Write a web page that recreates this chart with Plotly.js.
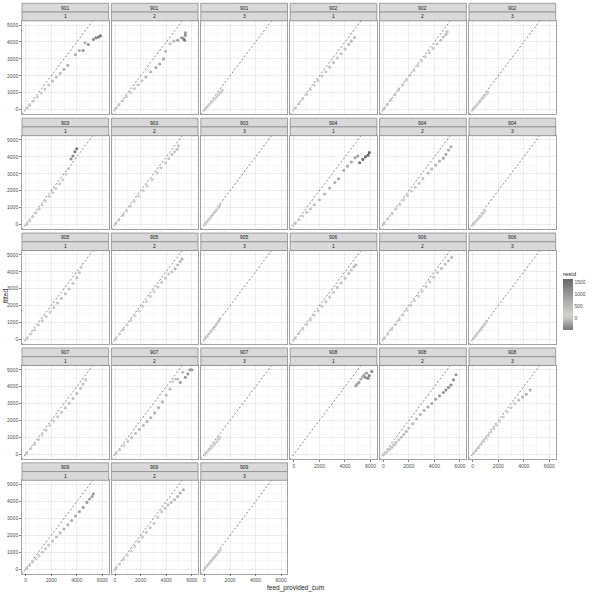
<!DOCTYPE html>
<html>
<head>
<meta charset="utf-8">
<script src="https://cdn.plot.ly/plotly-3.0.1.min.js"></script>
<style>html,body{margin:0;padding:0;background:#fff;}#chart{width:592px;height:592px;}</style>
</head>
<body>
<div id="chart"></div>
<script>
// ---- facet labels ----
const fishIds = ["901","901","901","902","902","902","903","903","903","904","904","904","905","905","905","906","906","906","907","907","907","908","908","908","909","909","909"];
const cageIds = ["1","2","3","1","2","3","1","2","3","1","2","3","1","2","3","1","2","3","1","2","3","1","2","3","1","2","3"];
const xTicks = [0, 2000, 4000, 6000];
const yTicks = [0, 1000, 2000, 3000, 4000, 5000];
const residTicks = [0, 500, 1000, 1500];
const identityLine = [-300, 6600];

// ---- data: feed_provided_cum (x), fitted (y), resid (r) ----
const x901_1 = [100,300,600,900,1200,1500,1800,2100,2400,2700,3000,3300,3900,4200,4500,4650,4900,5300,5500,5700,5850];
const y901_1 = [80,260,500,740,980,1220,1450,1680,1920,2150,2380,2620,3250,3500,3500,3950,3850,4150,4250,4300,4370];
const r901_1 = [20,40,100,160,220,280,350,420,480,550,620,680,650,700,1000,700,1050,1150,1250,1400,1480];

const x901_2 = [50,300,600,900,1200,1500,1800,2100,2400,2800,3200,3500,3800,3950,4300,4600,4900,5200,5350,5450,5500,5500];
const y901_2 = [60,280,520,760,1000,1230,1460,1700,1920,2220,2480,2700,3000,3450,3900,4050,4100,4250,4200,4100,4400,4550];
const r901_2 = [-10,20,80,140,200,270,340,400,480,580,720,800,800,500,400,550,800,950,1150,1350,1100,950];

const x901_3 = [50,200,350,500,650,800,950,1100,1250,1400];
const y901_3 = [30,150,270,390,510,640,760,880,1000,1140];
const r901_3 = [20,50,80,110,140,160,190,220,250,260];

const x902_1 = [100,400,700,1000,1300,1600,1900,2200,2500,2800,3100,3400,3700,4000,4300,4500,4750];
const y902_1 = [90,360,630,900,1170,1440,1710,1980,2240,2510,2780,3050,3310,3580,3860,4050,4270];
const r902_1 = [10,40,70,100,130,160,190,220,260,290,320,350,390,420,440,450,480];

const x902_2 = [50,300,600,900,1200,1500,1800,2100,2400,2700,3000,3300,3600,3900,4200,4500,4700,4900,5000];
const y902_2 = [50,290,580,880,1170,1460,1750,2040,2320,2600,2870,3130,3380,3620,3880,4100,4300,4450,4600];
const r902_2 = [0,10,20,20,30,40,50,60,80,100,130,170,220,280,320,400,400,450,400];

const x902_3 = [50,200,350,500,650,800,950,1100,1200];
const y902_3 = [40,170,300,430,560,690,810,940,1030];
const r902_3 = [10,30,50,70,90,110,140,160,170];

const x903_1 = [80,300,550,800,1050,1300,1550,1850,2100,2350,2650,2900,3150,3350,3550,3700,3850,4000];
const y903_1 = [10,220,450,680,920,1150,1380,1660,1890,2130,2410,2640,2980,3300,3870,4050,4300,4480];
const r903_1 = [70,80,100,120,130,150,170,190,210,220,240,260,170,50,-320,-350,-450,-470];

const x903_2 = [50,300,600,900,1200,1500,1850,2200,2500,2900,3300,3600,3950,4200,4450,4650,4850,4950];
const y903_2 = [50,270,540,810,1080,1350,1680,2000,2280,2650,3050,3350,3650,3900,4150,4300,4450,4650];
const r903_2 = [0,30,60,90,120,150,170,200,220,250,250,250,300,300,300,350,400,300];

const x903_3 = [50,200,350,500,650,800,950,1100,1200];
const y903_3 = [20,160,300,440,580,720,860,1020,1130];
const r903_3 = [30,40,50,60,70,80,90,80,70];

const x904_1 = [100,400,700,1000,1300,1600,2000,2400,2800,3200,3500,3900,4200,4500,4800,5000,5150,5400,5600,5800,5900];
const y904_1 = [60,280,500,720,930,1150,1460,1800,2150,2480,2700,3200,3450,3700,3950,4050,3650,3850,4000,4100,4250];
const r904_1 = [40,120,200,280,370,450,540,600,650,720,800,700,750,800,850,950,1500,1550,1600,1640,1600];

const x904_2 = [50,350,700,1000,1300,1600,1900,2200,2500,2800,3100,3500,3800,4100,4400,4700,4900,5100,5300];
const y904_2 = [60,330,640,910,1180,1450,1720,1980,2200,2440,2700,3040,3280,3500,3750,3920,4150,4400,4600];
const r904_2 = [-10,20,60,90,120,150,180,220,300,360,400,460,520,600,650,780,750,700,700];

const x904_3 = [50,200,350,500,650,800,950];
const y904_3 = [30,150,270,390,510,640,770];
const r904_3 = [20,50,80,110,140,160,180];

const x905_1 = [100,400,700,1000,1300,1600,1900,2200,2500,2800,3100,3400,3700,4000,4200,4350];
const y905_1 = [60,310,570,830,1090,1350,1620,1880,2150,2420,2700,2980,3300,3650,3950,4250];
const r905_1 = [40,90,130,170,210,250,280,320,350,380,400,420,400,350,250,100];

const x905_2 = [50,350,650,950,1250,1550,1850,2150,2450,2750,3050,3350,3650,3950,4200,4450,4700,4900,5100,5250];
const y905_2 = [40,310,580,850,1120,1390,1680,1960,2240,2540,2830,3100,3380,3620,3870,4000,4170,4400,4600,4750];
const r905_2 = [10,40,70,100,130,160,170,190,210,210,220,250,270,330,330,450,530,500,500,500];

const x905_3 = [50,200,350,500,650,800,950,1100,1200];
const y905_3 = [40,180,320,470,610,760,900,1050,1200];
const r905_3 = [10,20,30,30,40,40,50,50,0];

const x906_1 = [100,400,700,1000,1300,1600,1900,2200,2500,2800,3100,3400,3700,4000,4300,4500,4700,4850];
const y906_1 = [80,340,610,880,1150,1420,1690,1960,2230,2500,2780,3060,3340,3620,3900,4100,4300,4400];
const r906_1 = [20,60,90,120,150,180,210,240,270,300,320,340,360,380,400,400,400,450];

const x906_2 = [50,350,650,950,1250,1550,1850,2150,2450,2750,3050,3350,3650,3950,4250,4550,4850,5100,5350];
const y906_2 = [50,320,600,880,1160,1440,1720,2000,2280,2560,2840,3120,3400,3680,3960,4200,4450,4650,4850];
const r906_2 = [0,30,50,70,90,110,130,150,170,190,210,230,250,270,290,350,400,450,500];

const x906_3 = [50,200,350,500,650,800,950,1100];
const y906_3 = [40,180,320,460,600,750,900,1060];
const r906_3 = [10,20,30,40,50,50,50,40];

const x907_1 = [80,400,700,1000,1300,1600,1900,2200,2500,2800,3100,3400,3700,4000,4300,4500,4700];
const y907_1 = [60,330,600,870,1140,1420,1700,1960,2220,2480,2740,3020,3300,3600,3900,4150,4400];
const r907_1 = [20,70,100,130,160,180,200,240,280,320,360,380,400,400,400,350,300];

const x907_2 = [50,350,700,1000,1300,1600,1900,2200,2500,2800,3100,3400,3700,4000,4300,4500,4700,4900,5100,5300,5500,5700,5850,6000];
const y907_2 = [40,260,520,760,980,1230,1470,1700,1930,2160,2440,2750,3100,3500,3850,4300,4450,4450,4250,4850,4550,4750,5000,5000];
const r907_2 = [10,90,180,240,320,370,430,500,570,640,660,650,600,500,450,200,250,450,850,450,950,950,850,1000];

const x907_3 = [50,200,350,500,650,800,950,1100,1200];
const y907_3 = [20,130,250,370,490,610,740,880,1000];
const r907_3 = [30,70,100,130,160,190,210,220,200];

const x908_1 = [4850,4950,5100,5250,5400,5500,5600,5700,5800,5900,6100];
const y908_1 = [4050,4150,4250,4450,4600,4700,4550,4800,4500,4650,4900];
const r908_1 = [800,800,850,800,800,800,1050,900,1300,1250,1200];

const x908_2 = [50,200,300,400,500,600,700,800,900,1000,1200,1400,1600,1800,2000,2300,2600,2900,3200,3500,3800,4100,4400,4700,4900,5100,5300,5500,5700];
const y908_2 = [0,120,130,260,280,400,420,560,560,700,850,1000,1170,1350,1550,1800,2100,2350,2600,2800,3000,3250,3450,3650,3800,3950,4100,4400,4700];
const r908_2 = [50,80,170,140,220,200,280,240,340,300,350,400,430,450,450,500,500,550,600,700,800,850,950,1050,1100,1150,1200,1100,1000];

const x908_3 = [50,250,450,650,850,1050,1250,1450,1650,1850,2100,2400,2700,3000,3300,3600,3900,4200,4500];
const y908_3 = [30,210,390,570,760,950,1130,1320,1520,1720,1950,2200,2500,2750,3000,3200,3380,3550,3800];
const r908_3 = [20,40,60,80,90,100,120,130,130,130,150,200,200,250,300,400,520,650,700];

const x909_1 = [80,300,550,800,1050,1300,1550,1800,2100,2400,2700,3000,3300,3600,3900,4200,4500,4800,5000,5200,5300];
const y909_1 = [50,230,420,610,800,1000,1200,1420,1660,1900,2140,2370,2620,2880,3140,3400,3650,3950,4150,4300,4450];
const r909_1 = [30,70,130,190,250,300,350,380,440,500,560,630,680,720,760,800,850,850,850,900,850];

const x909_2 = [50,350,650,950,1250,1550,1850,2150,2450,2750,3050,3350,3650,3900,4150,4400,4650,4900,5100,5350];
const y909_2 = [40,300,560,820,1080,1340,1620,1900,2180,2450,2700,3050,3400,3600,3800,3950,4100,4300,4500,4700];
const r909_2 = [10,50,90,130,170,210,230,250,270,300,350,300,250,300,350,450,550,600,600,650];

const x909_3 = [50,200,350,500,650,800,950,1100,1250];
const y909_3 = [60,200,330,460,590,720,850,990,1130];
const r909_3 = [-10,0,20,40,60,80,100,110,120];

const panelX = [x901_1,x901_2,x901_3,x902_1,x902_2,x902_3,x903_1,x903_2,x903_3,x904_1,x904_2,x904_3,x905_1,x905_2,x905_3,x906_1,x906_2,x906_3,x907_1,x907_2,x907_3,x908_1,x908_2,x908_3,x909_1,x909_2,x909_3];
const panelY = [y901_1,y901_2,y901_3,y902_1,y902_2,y902_3,y903_1,y903_2,y903_3,y904_1,y904_2,y904_3,y905_1,y905_2,y905_3,y906_1,y906_2,y906_3,y907_1,y907_2,y907_3,y908_1,y908_2,y908_3,y909_1,y909_2,y909_3];
const panelR = [r901_1,r901_2,r901_3,r902_1,r902_2,r902_3,r903_1,r903_2,r903_3,r904_1,r904_2,r904_3,r905_1,r905_2,r905_3,r906_1,r906_2,r906_3,r907_1,r907_2,r907_3,r908_1,r908_2,r908_3,r909_1,r909_2,r909_3];

// ---- layout geometry (pixels) ----
const W = 592, H = 592;
const NCOL = 6;
const colLeft0 = 22, colStep = 89.4, panelW = 86.7;
const rowTop0 = 3.3, rowStep = 114.88, stripH = 8.75, panelH = 93.3;

const traces = [];
const layout = {
  width: W, height: H,
  margin: {l: 0, r: 0, t: 0, b: 0, pad: 0},
  paper_bgcolor: '#ffffff', plot_bgcolor: '#ffffff',
  showlegend: false,
  font: {family: 'Liberation Sans, Arial, sans-serif', color: '#4d4d4d'},
  shapes: [], annotations: [],
  coloraxis: {
    cmin: -470, cmax: 1640,
    colorscale: [[0, '#777777'], [0.223, '#c2c6c2'], [0.3, '#ced2ce'], [0.5, '#b3b7b3'], [0.75, '#8e908e'], [1, '#666666']],
    colorbar: {
      x: 563 / W, xanchor: 'left', xpad: 0,
      y: 1 - 299 / H, yanchor: 'middle', ypad: 0,
      len: 62, lenmode: 'pixels', thickness: 10, thicknessmode: 'pixels',
      outlinewidth: 0, ticks: '', tickvals: residTicks,
      tickfont: {size: 5, color: '#4d4d4d'},
      title: {text: 'resid', side: 'top', font: {size: 6, color: '#1a1a1a'}}
    }
  }
};

for (let k = 0; k < fishIds.length; k++) {
  const row = Math.floor(k / NCOL), col = k % NCOL;
  const n = k + 1, sfx = n === 1 ? '' : String(n);
  const left = colLeft0 + colStep * col;
  const sTop = rowTop0 + rowStep * row;
  const pTop = sTop + 2 * stripH;
  const isBottom = k + NCOL >= fishIds.length;
  const isLeft = col === 0;

  layout['xaxis' + sfx] = {
    domain: [left / W, (left + panelW) / W], anchor: 'y' + sfx,
    range: [-290, 6500], autorange: false, fixedrange: true,
    tickmode: 'array', tickvals: xTicks,
    showticklabels: isBottom, ticks: isBottom ? 'outside' : '', ticklen: 2, tickwidth: 0.6, tickcolor: '#333333',
    tickfont: {size: 5, color: '#4d4d4d'},
    showgrid: true, gridcolor: '#e6e6e6', gridwidth: 0.7,
    minor: {tickmode: 'linear', tick0: 1000, dtick: 2000, showgrid: true, gridcolor: '#f1f1f1', gridwidth: 0.5, ticks: ''},
    zeroline: false, showline: true, mirror: true, linecolor: '#8c8c8c', linewidth: 0.8
  };
  layout['yaxis' + sfx] = {
    domain: [1 - (pTop + panelH) / H, 1 - pTop / H], anchor: 'x' + sfx,
    range: [-270, 5255], autorange: false, fixedrange: true,
    tickmode: 'array', tickvals: yTicks,
    showticklabels: isLeft, ticks: isLeft ? 'outside' : '', ticklen: 2, tickwidth: 0.6, tickcolor: '#333333',
    tickfont: {size: 5, color: '#4d4d4d'},
    showgrid: true, gridcolor: '#e6e6e6', gridwidth: 0.7,
    minor: {tickmode: 'linear', tick0: 500, dtick: 1000, showgrid: true, gridcolor: '#f1f1f1', gridwidth: 0.5, ticks: ''},
    zeroline: false, showline: true, mirror: true, linecolor: '#8c8c8c', linewidth: 0.8
  };

  // identity reference line
  traces.push({
    type: 'scatter', mode: 'lines', x: identityLine, y: identityLine,
    xaxis: 'x' + sfx, yaxis: 'y' + sfx, hoverinfo: 'skip',
    line: {color: '#3a3a3a', width: 0.6, dash: '2px,2px'}
  });
  // points
  traces.push({
    type: 'scatter', mode: 'markers', x: panelX[k], y: panelY[k],
    xaxis: 'x' + sfx, yaxis: 'y' + sfx,
    marker: {size: 3.1, color: panelR[k], coloraxis: 'coloraxis', line: {width: 0}}
  });

  // strips
  const x0 = left / W, x1 = (left + panelW) / W;
  [[sTop, fishIds[k]], [sTop + stripH, cageIds[k]]].forEach(([t, label]) => {
    layout.shapes.push({
      type: 'rect', xref: 'paper', yref: 'paper',
      x0: x0, x1: x1, y0: 1 - (t + stripH) / H, y1: 1 - t / H,
      fillcolor: '#d9d9d9', line: {color: '#8c8c8c', width: 0.8}, layer: 'above'
    });
    layout.annotations.push({
      xref: 'paper', yref: 'paper', x: (x0 + x1) / 2, y: 1 - (t + stripH / 2) / H,
      xanchor: 'center', yanchor: 'middle', showarrow: false,
      text: label, font: {size: 5, color: '#1a1a1a'}
    });
  });
}

// axis titles
layout.annotations.push({
  xref: 'paper', yref: 'paper', x: 295 / W, y: 1 - 587.5 / H, xanchor: 'center', yanchor: 'middle',
  showarrow: false, text: 'feed_provided_cum', font: {size: 6.5, color: '#1a1a1a'}
});
layout.annotations.push({
  xref: 'paper', yref: 'paper', x: 5 / W, y: 1 - 296 / H, xanchor: 'center', yanchor: 'middle',
  showarrow: false, text: 'fitted', textangle: -90, font: {size: 6.5, color: '#1a1a1a'}
});

Plotly.newPlot('chart', traces, layout, {displayModeBar: false, staticPlot: true});
</script>
</body>
</html>
